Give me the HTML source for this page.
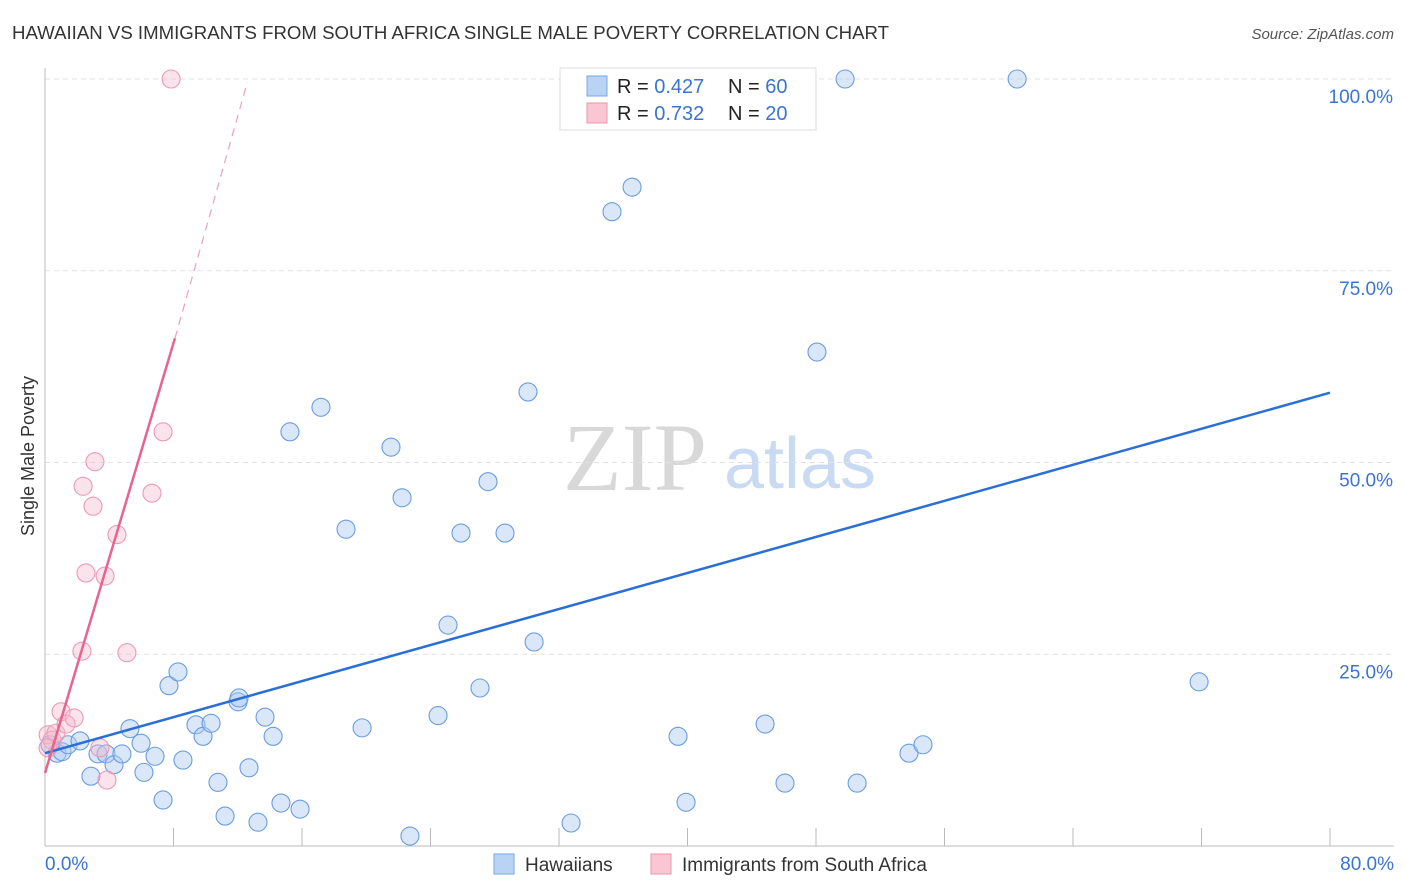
<!DOCTYPE html>
<html><head><meta charset="utf-8"><style>
body{margin:0;background:#fff;font-family:"Liberation Sans",sans-serif;}
#wrap{position:relative;width:1406px;height:892px;overflow:hidden;}
svg text{font-family:"Liberation Sans",sans-serif;}
</style></head><body>
<div id="wrap">
<svg id="svg" width="1406" height="892" xmlns="http://www.w3.org/2000/svg">
<text x="12" y="39" font-size="18" fill="#333" textLength="877" lengthAdjust="spacingAndGlyphs">HAWAIIAN VS IMMIGRANTS FROM SOUTH AFRICA SINGLE MALE POVERTY CORRELATION CHART</text>
<text x="1394" y="39" font-size="15" fill="#555" font-style="italic" text-anchor="end">Source: ZipAtlas.com</text>
<text x="34" y="456" font-size="18" fill="#333" text-anchor="middle" transform="rotate(-90 34 456)">Single Male Poverty</text>
<g>
<text x="635" y="490" font-size="96" fill="#d8d8d8" text-anchor="middle" font-family="Liberation Serif" style="font-family:'Liberation Serif',serif">ZIP</text>
<text x="800" y="488" font-size="72" fill="#c9daf3" text-anchor="middle">atlas</text>
</g>
<g id="grid"></g><g id="marks"></g>
<g>
<rect x="560" y="68" width="256" height="62" fill="#fff" stroke="#ddd"/>
<rect x="587" y="76" width="20" height="20" fill="#b9d3f5" stroke="#7aa6e6"/>
<rect x="587" y="103" width="20" height="20" fill="#f9c6d4" stroke="#eb94ae"/>
<text x="617" y="93" font-size="20" fill="#222">R = <tspan fill="#3b74d1">0.427</tspan></text>
<text x="728" y="93" font-size="20" fill="#222">N = <tspan fill="#3b74d1">60</tspan></text>
<text x="617" y="120" font-size="20" fill="#222">R = <tspan fill="#3b74d1">0.732</tspan></text>
<text x="728" y="120" font-size="20" fill="#222">N = <tspan fill="#3b74d1">20</tspan></text>
</g>
<g>
<rect x="494" y="854" width="20" height="20" fill="#b9d3f5" stroke="#7aa6e6"/>
<text x="525" y="871" font-size="19" fill="#333">Hawaiians</text>
<rect x="651" y="854" width="20" height="20" fill="#f9c6d4" stroke="#eb94ae"/>
<text x="682" y="871" font-size="19" fill="#333">Immigrants from South Africa</text>
</g>
</svg>
</div>
<script>
const blueX=[0.75,1.06,1.43,2.18,2.86,3.30,3.80,4.30,4.79,5.29,5.98,6.16,6.85,7.35,7.72,8.28,8.59,9.40,9.84,10.34,10.77,11.21,12.02,12.08,12.70,13.26,13.70,14.20,14.69,15.25,15.88,17.18,18.74,19.74,21.54,22.23,22.72,24.47,25.09,25.90,27.08,27.58,28.64,30.07,30.45,32.75,35.30,36.55,39.41,39.91,44.83,46.07,48.06,49.81,50.56,53.79,54.66,60.52,71.85,0.31];
const blueY=[12.1,12.3,13.2,13.7,9.1,12.0,12.0,10.6,12.0,15.3,13.4,9.6,11.7,6.0,20.9,22.7,11.2,15.8,14.3,16.0,8.3,3.9,18.8,19.3,10.2,3.1,16.8,14.3,5.6,54.0,4.8,57.2,41.3,15.4,52.0,45.4,1.3,17.0,28.8,40.8,20.6,47.5,40.8,59.2,26.6,3.0,82.7,85.9,14.3,5.7,15.9,8.2,64.4,100,8.2,12.1,13.2,100,21.4,13.2];
const pinkX=[0.19,0.44,0.68,1.00,1.31,1.81,2.30,2.55,2.37,2.99,3.11,3.42,3.74,3.86,4.48,5.10,6.66,7.35,7.85,0.19];
const pinkY=[14.5,13.8,14.7,17.5,15.9,16.7,25.4,35.6,46.9,44.3,50.1,12.8,35.2,8.6,40.6,25.2,46.0,54.0,100,12.8];
const blueTrend=[[0,12.1],[80,59.1]];
const pinkTrend=[[0,9.5],[8.09,66.2]];
const pinkDash=[[8.09,66.2],[12.6,99.6]];
const yTicks=[25,50,75,100];
const xTicks=[0,8,16,24,32,40,48,56,64,72,80];
const NS="http://www.w3.org/2000/svg";
const X=v=>45+v*1285/80, Y=v=>846-v*7.67;
function mk(t,a,p){const e=document.createElementNS(NS,t);for(const k in a)e.setAttribute(k,a[k]);p.appendChild(e);return e;}
const g=document.getElementById('grid'), m=document.getElementById('marks');
yTicks.forEach(t=>{
 const l=mk('line',{x1:45,x2:1394,y1:Y(t),y2:Y(t),stroke:'#e2e2e2','stroke-dasharray':'5,4'},g);
 
 
 const tx=mk('text',{x:1393,y:Y(t)+24,'font-size':19,fill:'#3b74d1','text-anchor':'end'},g);
 tx.textContent=t.toFixed(1)+'%';
 
 
});
mk('line',{x1:45,x2:45,y1:68,y2:846,stroke:'#bbb'},g);
mk('line',{x1:45,x2:1394,y1:846,y2:846,stroke:'#bbb'},g);
xTicks.forEach(t=>{
 if(t>0){const l=mk('line',{x1:X(t),x2:X(t),y1:828,y2:846,stroke:'#bbb'},g);
 
 }
});
[[0,'0.0%','start',45],[80,'80.0%','end',1394]].forEach(([v,s,a,x])=>{
 const tx=mk('text',{x:x,y:870,'font-size':19,fill:'#3b74d1','text-anchor':a},g);tx.textContent=s;
 
 
});
blueX.forEach((v,i)=>{
 const c=mk('circle',{cx:X(v),cy:Y(blueY[i]),r:9,fill:'rgba(170,202,242,0.45)',stroke:'#6a9de0','stroke-width':1.1},m);
 
 
});
pinkX.forEach((v,i)=>{
 const c=mk('circle',{cx:X(v),cy:Y(pinkY[i]),r:9,fill:'rgba(246,186,204,0.4)',stroke:'#ee9ab3','stroke-width':1.1},m);
 
 
});
const bl=mk('line',{x1:X(blueTrend[0][0]),y1:Y(blueTrend[0][1]),x2:X(blueTrend[1][0]),y2:Y(blueTrend[1][1]),stroke:'#2a6fd6','stroke-width':2.5},m);


const pl=mk('line',{x1:X(pinkTrend[0][0]),y1:Y(pinkTrend[0][1]),x2:X(pinkTrend[1][0]),y2:Y(pinkTrend[1][1]),stroke:'#e8648e','stroke-width':2.5},m);


const pd=mk('line',{x1:X(pinkDash[0][0]),y1:Y(pinkDash[0][1]),x2:X(pinkDash[1][0]),y2:Y(pinkDash[1][1]),stroke:'#eea0b8','stroke-width':1.2,'stroke-dasharray':'8,6'},m);


</script>
</body></html>
